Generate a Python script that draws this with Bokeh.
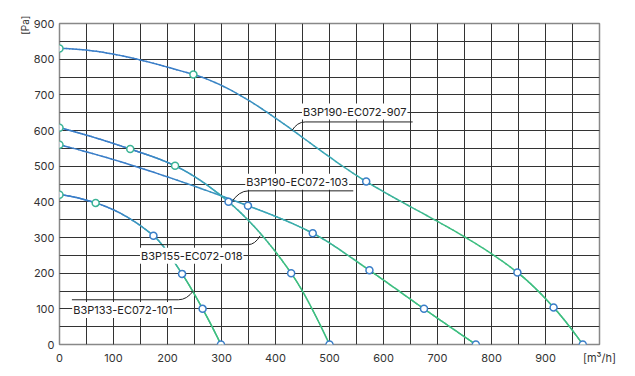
import math
from bokeh.plotting import figure
from bokeh.models import Range1d, FixedTicker, Label, Title
from bokeh.embed import file_html
from bokeh.resources import INLINE

# ---- data ----
flow_907 = [0, 248, 568, 848, 915, 969]
pres_907 = [830, 757, 457, 202, 104, 0]
flow_103 = [0, 349, 469, 574, 675, 771]
pres_103 = [560, 389, 312, 208, 100, 0]
flow_018 = [0, 131, 214, 313, 429, 500]
pres_018 = [608, 548, 501, 400, 200, 0]
flow_101 = [0, 67, 174, 227, 265, 299]
pres_101 = [420, 397, 305, 198, 100, 0]

x_ticks = list(range(0, 1001, 100))
y_ticks = list(range(0, 901, 100))
x_unit = "[m³/h]"
y_unit = "[Pa]"
names = ["B3P190-EC072-907", "B3P190-EC072-103", "B3P155-EC072-018", "B3P133-EC072-101"]

FONT = "Inter"

p = figure(width=635, height=376, x_range=Range1d(0, 1000), y_range=Range1d(0, 900),
           output_backend="svg", toolbar_location=None,
           min_border_left=59, min_border_right=36, min_border_top=23, min_border_bottom=32)
p.background_fill_color = "white"
p.border_fill_color = "white"
p.outline_line_color = "#888888"
p.outline_line_width = 1.5

p.xaxis.ticker = FixedTicker(ticks=x_ticks, minor_ticks=list(range(0, 1001, 50)))
p.yaxis.ticker = FixedTicker(ticks=y_ticks, minor_ticks=list(range(0, 901, 50)))
p.xaxis.major_label_overrides = {1000: x_unit}
for ax in (p.xaxis, p.yaxis):
    ax.axis_line_color = None
    ax.major_tick_line_color = None
    ax.minor_tick_line_color = None
    ax.major_tick_out = 0
    ax.major_tick_in = 0
    ax.minor_tick_out = 0
    ax.minor_tick_in = 0
    ax.major_label_text_font = FONT
    ax.major_label_text_font_size = "11px"
    ax.major_label_text_color = "#333333"
p.yaxis.major_label_standoff = 5
p.xaxis.major_label_standoff = 6
for g in (p.xgrid, p.ygrid):
    g.grid_line_color = "#333333"
    g.grid_line_width = 1
    g.grid_line_alpha = 1
    g.minor_grid_line_color = "#333333"
    g.minor_grid_line_width = 1


def pchip_slopes(xs, ys):
    n = len(xs)
    h = [xs[i + 1] - xs[i] for i in range(n - 1)]
    d = [(ys[i + 1] - ys[i]) / h[i] for i in range(n - 1)]
    m = [0.0] * n
    for k in range(1, n - 1):
        if d[k - 1] * d[k] <= 0:
            m[k] = 0.0
        else:
            w1 = 2 * h[k] + h[k - 1]
            w2 = h[k] + 2 * h[k - 1]
            m[k] = (w1 + w2) / (w1 / d[k - 1] + w2 / d[k])

    def end(h0, h1, d0, d1):
        mm = ((2 * h0 + h1) * d0 - h0 * d1) / (h0 + h1)
        if mm * d0 <= 0:
            mm = 0.0
        elif d0 * d1 <= 0 and abs(mm) > abs(3 * d0):
            mm = 3 * d0
        return mm

    m[0] = end(h[0], h[1], d[0], d[1])
    m[-1] = end(h[-1], h[-2], d[-1], d[-2])
    return m


def smooth(xs, ys, per=40):
    m = pchip_slopes(xs, ys)
    px, py = [xs[0]], [ys[0]]
    for i in range(len(xs) - 1):
        hh = xs[i + 1] - xs[i]
        for j in range(1, per + 1):
            t = j / per
            h00 = 2 * t**3 - 3 * t**2 + 1
            h10 = t**3 - 2 * t**2 + t
            h01 = -2 * t**3 + 3 * t**2
            h11 = t**3 - t**2
            px.append(xs[i] + t * hh)
            py.append(h00 * ys[i] + h10 * hh * m[i] + h01 * ys[i + 1] + h11 * hh * m[i + 1])
    return px, py


BLUE = (58, 126, 200)
TEAL = (58, 168, 182)
GREEN = (62, 190, 128)
stops = [(0.0, BLUE), (0.22, BLUE), (0.48, TEAL), (0.72, GREEN), (1.0, GREEN)]


def grad(f):
    for (a, ca), (b, cb) in zip(stops[:-1], stops[1:]):
        if f <= b:
            t = 0 if b == a else (f - a) / (b - a)
            c = [round(ca[k] + (cb[k] - ca[k]) * t) for k in range(3)]
            return "#%02x%02x%02x" % tuple(c)
    return "#%02x%02x%02x" % GREEN


SX, SY = 540 / 1000, 321 / 900


def draw_curve(xs, ys):
    px, py = smooth(xs, ys)
    L = [0.0]
    for i in range(1, len(px)):
        L.append(L[-1] + math.hypot((px[i] - px[i - 1]) * SX, (py[i] - py[i - 1]) * SY))
    tot = L[-1]
    segx, segy, cols = [], [], []
    for i in range(len(px) - 1):
        segx.append([px[i], px[i + 1]])
        segy.append([py[i], py[i + 1]])
        cols.append(grad((L[i] + L[i + 1]) / 2 / tot))
    p.multi_line(xs=segx, ys=segy, line_color=cols, line_width=1.5, line_cap="round")
    mcols = []
    for x, y in zip(xs, ys):
        idx = min(range(len(px)), key=lambda k: abs(px[k] - x) + abs(py[k] - y))
        mcols.append("#3cb496" if L[idx] / tot < 0.4 else "#3a7ec8")
    return mcols


all_curves = [(flow_907, pres_907), (flow_103, pres_103), (flow_018, pres_018), (flow_101, pres_101)]
marker_sets = []
for xs, ys in all_curves:
    marker_sets.append((xs, ys, draw_curve(xs, ys)))

# leader lines
LC = "#222222"
leaders = [
    (455, 654, 624, (455, 624), (440, 624), (430, 598.7)),
    (350, 544, 430.8, (350, 430.8), (332, 430.8), (318, 397.6)),
    (149.6, 349.4, 280, (349.4, 280), (362, 280), (371.7, 305)),
    (23, 220, 125.4, (220, 125.4), (236, 125.4), (248, 150.7)),
]
for x0, x1, yy, s, c, t in leaders:
    p.line([x0, x1], [yy, yy], line_color=LC, line_width=1)
    p.quadratic(x0=s[0], y0=s[1], x1=t[0], y1=t[1], cx=c[0], cy=c[1], line_color=LC, line_width=1)

label_pos = [(449, 653), (344, 456), (149, 249), (23.5, 97)]
for name, (lx, ly) in zip(names, label_pos):
    p.add_layout(Label(x=lx, y=ly, text=name, text_font=FONT, text_font_size="11px",
                       text_color="#222222", text_align="left", text_baseline="middle",
                       background_fill_color="white", background_fill_alpha=1.0, padding=1))

for xs, ys, mc in marker_sets:
    p.scatter(xs, ys, marker="circle", size=7, fill_color="white", line_color=mc, line_width=1.5)

p.add_layout(Title(text=y_unit, align="right", text_font=FONT, text_font_size="10px",
                   text_color="#333333", text_font_style="normal", offset=-8, standoff=0), "left")

open("out.html", "w").write(file_html(p, INLINE))
